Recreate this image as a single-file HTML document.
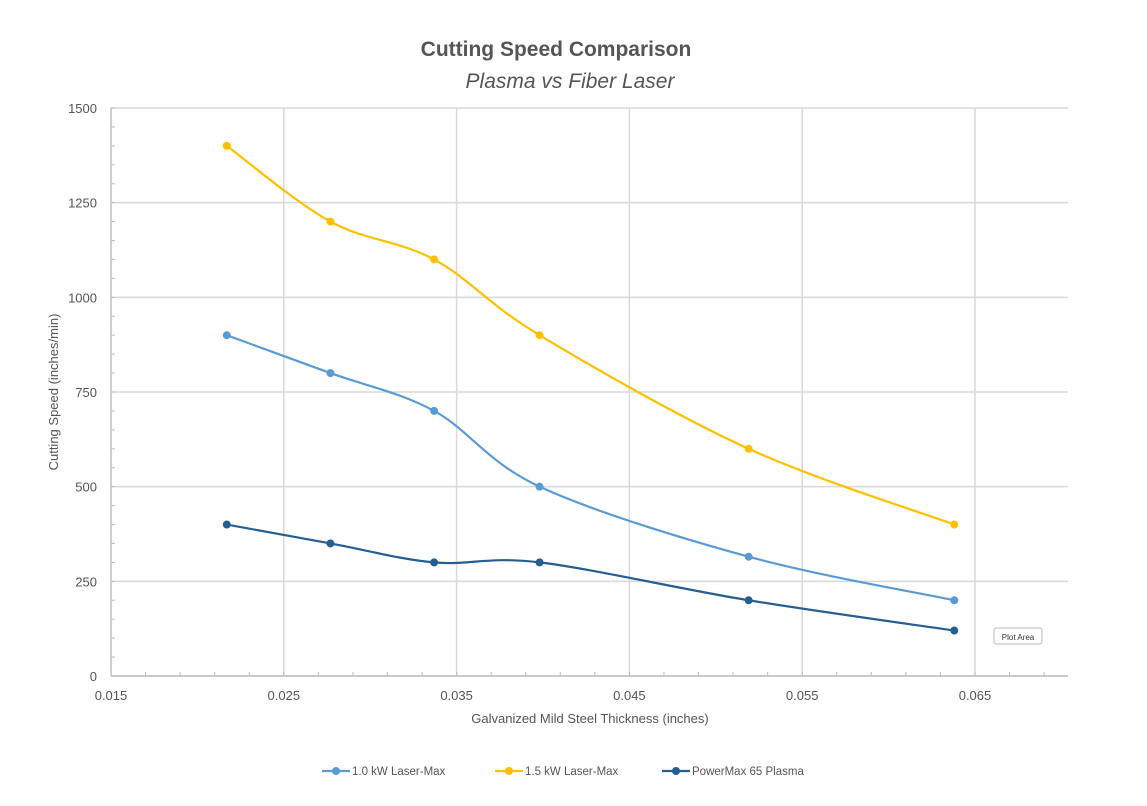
<!DOCTYPE html>
<html><head><meta charset="utf-8"><style>
body{margin:0;background:#fff;}
svg text{font-family:"Liberation Sans",sans-serif;}
</style></head><body>
<svg id="chart" width="1147" height="801" xmlns="http://www.w3.org/2000/svg">
<text x="556" y="56" text-anchor="middle" font-size="21" font-weight="bold" fill="#555">Cutting Speed Comparison</text>
<text x="570" y="88" text-anchor="middle" font-size="21" font-style="italic" fill="#555">Plasma vs Fiber Laser</text>
<g id="grid"></g><g id="axes"></g><g id="series"></g>
<text transform="translate(58,392) rotate(-90)" text-anchor="middle" font-size="13" fill="#555">Cutting Speed (inches/min)</text>
<text x="590" y="723" text-anchor="middle" font-size="13" fill="#555">Galvanized Mild Steel Thickness (inches)</text>
<g id="legend"></g>
<g><rect x="994" y="628" width="48" height="16" rx="2" fill="#fff" stroke="#bbb"/><text x="1018" y="640" text-anchor="middle" font-size="8" fill="#333">Plot Area</text></g>
</svg>
<script>
const xs=[0.0217,0.0277,0.0337,0.0398,0.0519,0.0638];
const laser10=[900,800,700,500,315,200];
const laser15=[1400,1200,1100,900,600,400];
const plasma=[400,350,300,300,200,120];
const yTicks=[0,250,500,750,1000,1250,1500];
const xTicks=[0.015,0.025,0.035,0.045,0.055,0.065];
const NS='http://www.w3.org/2000/svg';
const X0=111,X1=1068,Y0=676,Y1=108;
const sx=v=>X0+(v-0.015)*(975-111)/0.05;
const sy=v=>Y0-v*(Y0-Y1)/1500;
function mk(t,a,p){const e=document.createElementNS(NS,t);for(const k in a)e.setAttribute(k,a[k]);p.appendChild(e);return e;}
const g=document.getElementById('grid'),ax=document.getElementById('axes'),s=document.getElementById('series'),lg=document.getElementById('legend');
yTicks.forEach(v=>{const l=mk('line',{x1:X0,x2:X1,y1:sy(v),y2:sy(v),stroke:'#d9d9d9','stroke-width':1.5},g);


const t=mk('text',{x:X0-14,y:sy(v)+5,'text-anchor':'end','font-size':13,fill:'#555'},ax);t.textContent=v;

});
xTicks.forEach(v=>{if(v>0.015){const l=mk('line',{x1:sx(v),x2:sx(v),y1:Y1,y2:Y0,stroke:'#d9d9d9','stroke-width':1.5},g);

}
const t=mk('text',{x:sx(v),y:Y0+24,'text-anchor':'middle','font-size':13,fill:'#555'},ax);t.textContent=v.toFixed(3);

});
for(let v=0;v<=1500;v+=50)mk('line',{x1:X0,x2:X0+4,y1:sy(v),y2:sy(v),stroke:'#bbb'},ax);
for(let v=0.015;v<=0.0705;v+=0.002)mk('line',{x1:sx(v),x2:sx(v),y1:Y0,y2:Y0-4,stroke:'#bbb'},ax);
mk('line',{x1:X0,x2:X0,y1:Y1,y2:Y0,stroke:'#bfbfbf','stroke-width':1.5},ax);
mk('line',{x1:X0,x2:X1,y1:Y0,y2:Y0,stroke:'#bfbfbf','stroke-width':1.5},ax);
function path(ys){const p=xs.map((x,i)=>[sx(x),sy(ys[i])]);let d=`M${p[0]}`;
for(let i=0;i<p.length-1;i++){const a=p[i-1]||p[i],b=p[i],c=p[i+1],e=p[i+2]||c;
d+=`C${b[0]+(c[0]-a[0])/6},${b[1]+(c[1]-a[1])/6} ${c[0]-(e[0]-b[0])/6},${c[1]-(e[1]-b[1])/6} ${c[0]},${c[1]}`;}return d;}
[[laser10,'#5b9bd5','series-1kw-laser'],[laser15,'#ffc000','series-1-5kw-laser'],[plasma,'#255e91','series-plasma']].forEach(([ys,c,n])=>{
const pg=mk('g',{},s);


mk('path',{d:path(ys),fill:'none',stroke:c,'stroke-width':2.2},pg);
xs.forEach((x,i)=>{const pt=mk('circle',{cx:sx(x),cy:sy(ys[i]),r:4,fill:c},pg);

});});
[['1.0 kW Laser-Max','#5b9bd5',322],['1.5 kW Laser-Max','#ffc000',495],['PowerMax 65 Plasma','#255e91',662]].forEach(([t,c,x])=>{
const e=mk('g',{},lg);


mk('line',{x1:x,x2:x+28,y1:771,y2:771,stroke:c,'stroke-width':2.2},e);
mk('circle',{cx:x+14,cy:771,r:4,fill:c},e);
const tx=mk('text',{x:x+30,y:775,'font-size':11.5,fill:'#555'},e);tx.textContent=t;});
</script>
</body></html>
